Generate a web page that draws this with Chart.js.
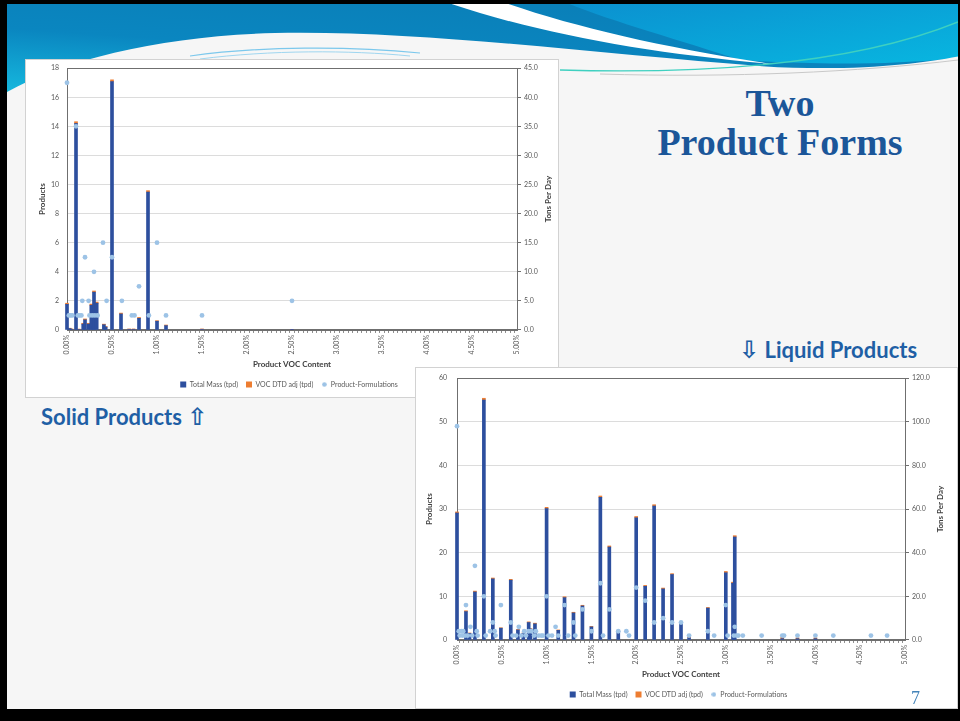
<!DOCTYPE html>
<html>
<head>
<meta charset="utf-8">
<script src="https://cdn.jsdelivr.net/npm/chart.js@4.4.0/dist/chart.umd.min.js"></script>
<style>
  html, body { margin: 0; padding: 0; }
  body { width: 960px; height: 721px; background: #000; position: relative; overflow: hidden; font-family: Lato, "Open Sans", sans-serif; }
  #slide { position: absolute; left: 7px; top: 4px; width: 951px; height: 705px; background: #f6f6f6; overflow: hidden; }
  #banner { position: absolute; left: 0; top: 0; }
  .box { position: absolute; background: #fff; border: 1px solid #d2d2d2; overflow: hidden; }
  .box canvas { display: block; margin-top: -4px; }
  #box1 { left: 25px; top: 59px; width: 532px; height: 337px; }
  #box2 { left: 415px; top: 367px; width: 541px; height: 340px; }
  #title { position: absolute; left: 630px; top: 84px; width: 300px; text-align: center; font-family: "Liberation Serif", serif; font-weight: bold; font-size: 38px; line-height: 39px; color: #1b5699; }
  .note { position: absolute; font-weight: bold; font-size: 22px; color: #1f5fa5; white-space: nowrap; }
  .arrow { font-family: "DejaVu Sans", sans-serif; font-weight: bold; font-size: 24px; }
  #solid { left: 41px; top: 403px; }
  #liquid { left: 739px; top: 336px; }
  #pagenum { position: absolute; left: 911px; top: 688px; font-family: "Liberation Serif", serif; font-size: 18px; color: #4383b8; }
</style>
</head>
<body>
<div id="slide">
  <svg id="banner" width="951" height="110" viewBox="7 4 951 110">
    <defs>
      <linearGradient id="bg" x1="0" y1="1" x2="0.6" y2="0">
        <stop offset="0" stop-color="#19c6e6"/>
        <stop offset="0.55" stop-color="#0a86c0"/>
        <stop offset="1" stop-color="#0a7fb8"/>
      </linearGradient>
      <linearGradient id="bg2" x1="0" y1="0" x2="1" y2="1">
        <stop offset="0" stop-color="#0b8fcf"/>
        <stop offset="1" stop-color="#08b6e0"/>
      </linearGradient>
    </defs>
    <rect x="0" y="0" width="960" height="110" fill="url(#bg)"/>
    <path d="M560,0 L960,0 L960,58 C 880,66 800,64 740,60 C 680,40 600,18 560,0 Z" fill="url(#bg2)"/>
    <path d="M0,96 C 60,60 160,36 275,33 C 420,30 600,54 760,66 C 850,72 920,64 960,56 L960,114 L0,114 Z" fill="#f6f6f6"/>
    <path d="M440,0 L497,0 C 570,26 660,47 772,64 C 650,54 530,32 440,0 Z" fill="#ffffff"/>
    <path d="M190,56 C 260,46 350,46 420,53" stroke="#7cc8ec" stroke-width="1.2" fill="none"/>
    <path d="M200,59 C 270,50 350,50 410,56" stroke="#9fd6f0" stroke-width="1" fill="none"/>
    <path d="M560,70 C 700,74 850,66 958,22" stroke="#3fd0c0" stroke-width="1.4" fill="none"/>
    <path d="M600,74 C 730,78 860,72 958,60" stroke="#c9c9c9" stroke-width="1" fill="none"/>
  </svg>
</div>

<div id="box1" class="box"><canvas id="solidChart" width="532" height="341"></canvas></div>
<div id="box2" class="box"><canvas id="liquidChart" width="541" height="344"></canvas></div>

<div id="title">Two<br>Product Forms</div>
<div id="solid" class="note">Solid Products <span class="arrow">⇧</span></div>
<div id="liquid" class="note"><span class="arrow">⇩</span> Liquid Products</div>
<div id="pagenum">7</div>

<script>
// ---- Solid products (top chart) ----
const solidBarX  = [0.00, 0.03, 0.05, 0.10, 0.13, 0.18, 0.20, 0.24, 0.27, 0.29, 0.30, 0.33, 0.41, 0.43, 0.50, 0.60, 0.69, 0.74, 0.80, 0.90, 1.00, 1.10, 1.50, 2.50];
const solidMass  = [4.4, 0.25, 0.12, 35.5, 0.1, 1.0, 1.75, 1.0, 4.25, 0.5, 6.5, 4.6, 0.9, 0.5, 42.7, 2.75, 0.12, 0.12, 2.0, 23.7, 1.5, 0.75, 0.12, 0.05];
const solidVoc   = [0.2, 0.05, 0.05, 0.3, 0.05, 0.15, 0.15, 0.15, 0.2, 0.1, 0.2, 0.2, 0.1, 0.1, 0.3, 0.15, 0.05, 0.05, 0.15, 0.25, 0.1, 0.1, 0.05, 0.05];
const solidDotX  = [0.00, 0.02, 0.04, 0.06, 0.10, 0.12, 0.14, 0.16, 0.17, 0.20, 0.24, 0.25, 0.28, 0.30, 0.31, 0.34, 0.40, 0.44, 0.50, 0.61, 0.72, 0.75, 0.80, 0.91, 1.00, 1.10, 1.50, 2.50];
const solidDotY  = [17, 1, 1, 1, 14, 1, 1, 1, 2, 5, 2, 1, 1, 4, 1, 1, 6, 2, 5, 2, 1, 1, 3, 1, 6, 1, 1, 2];

// ---- Liquid products (bottom chart) ----
const liquidBarX = [0.00, 0.10, 0.14, 0.20, 0.30, 0.40, 0.49, 0.60, 0.68, 0.74, 0.80, 0.82, 0.87, 1.00, 1.13, 1.20, 1.30, 1.40, 1.50, 1.60, 1.70, 1.80, 2.00, 2.10, 2.20, 2.30, 2.40, 2.50, 2.59, 2.80, 3.00, 3.08, 3.10, 3.63, 3.80, 4.00];
const liquidMass = [58.2, 13.0, 3.0, 22.0, 110.0, 28.0, 5.4, 27.4, 4.6, 3.0, 8.0, 5.0, 7.4, 60.2, 4.4, 19.4, 12.4, 15.6, 6.0, 65.4, 42.6, 4.0, 56.0, 24.6, 61.4, 23.4, 30.0, 7.8, 1.0, 14.6, 30.8, 26.0, 47.2, 0.6, 0.6, 0.6];
const liquidVoc  = [0.5, 0.4, 0.2, 0.4, 0.8, 0.4, 0.2, 0.4, 0.2, 0.2, 0.3, 0.2, 0.3, 0.6, 0.2, 0.4, 0.3, 0.3, 0.2, 0.6, 0.5, 0.2, 0.6, 0.4, 0.6, 0.4, 0.4, 0.3, 0.2, 0.3, 0.6, 0.5, 0.6, 0.8, 0.4, 0.4];
const liquidDotX = [0.00, 0.02, 0.03, 0.05, 0.06, 0.07, 0.09, 0.10, 0.12, 0.15, 0.17, 0.20, 0.22, 0.23, 0.30, 0.32, 0.37, 0.40, 0.42, 0.43, 0.49, 0.60, 0.62, 0.66, 0.69, 0.72, 0.75, 0.77, 0.80, 0.83, 0.86, 0.88, 0.91, 0.94, 0.96, 1.00, 1.02, 1.06, 1.10, 1.13, 1.20, 1.24, 1.30, 1.32, 1.40, 1.50, 1.60, 1.63, 1.70, 1.80, 1.89, 1.92, 2.00, 2.10, 2.20, 2.30, 2.40, 2.50, 2.59, 2.80, 2.87, 3.00, 3.02, 3.09, 3.10, 3.12, 3.14, 3.19, 3.40, 3.63, 3.65, 3.80, 4.00, 4.20, 4.62, 4.80];
const liquidDotY = [49, 2, 1, 2, 1, 2, 1, 8, 1, 3, 1, 17, 2, 1, 10, 1, 2, 4, 2, 1, 8, 4, 1, 1, 3, 1, 2, 1, 2, 2, 1, 2, 1, 1, 1, 10, 1, 1, 3, 1, 8, 1, 4, 1, 7, 2, 13, 1, 7, 2, 2, 1, 12, 9, 4, 5, 4, 4, 1, 2, 1, 8, 1, 1, 3, 1, 1, 1, 1, 1, 1, 1, 1, 1, 1, 1];

const BLUE = '#2d4f9e';
const ORANGE = '#ed7d31';
const DOT = '#9dc3e6';
const FONT = 'Lato, "Open Sans", sans-serif';
const TXT = '#595959';

// small round marker for the legend (smaller than the squares, as in Excel)
const legendDot = document.createElement('canvas');
legendDot.width = 5; legendDot.height = 5;
(function () {
  const c = legendDot.getContext('2d');
  c.fillStyle = DOT;
  c.beginPath(); c.arc(2.5, 2.5, 2.3, 0, Math.PI * 2); c.fill();
})();

// frame around the plot area + right axis title reading upwards
const plotExtras = {
  id: 'plotExtras',
  beforeDatasetsDraw(chart) {
    const a = chart.chartArea, ctx = chart.ctx;
    ctx.save();
    ctx.strokeStyle = '#6f6f6f';
    ctx.lineWidth = 1;
    ctx.strokeRect(Math.round(a.left) + 0.5, Math.round(a.top) + 0.5, Math.round(a.right - a.left), Math.round(a.bottom - a.top));
    ctx.restore();
  },
  afterDraw(chart, args, opts) {
    const a = chart.chartArea, ctx = chart.ctx;
    ctx.save();
    ctx.translate(opts.titleX, (a.top + a.bottom) / 2);
    ctx.rotate(-Math.PI / 2);
    ctx.fillStyle = '#404040';
    ctx.font = 'bold 8px ' + FONT;
    ctx.textAlign = 'center';
    ctx.textBaseline = 'middle';
    ctx.fillText('Tons Per Day', 0, 0);
    ctx.restore();
  }
};

function buildChart(id, barX, mass, voc, dotX, dotY, yMax, yStep, y2Max, y2Step, lay) {
  const massPts = barX.map((x, i) => ({ x: x, y: mass[i] }));
  const vocPts = barX.map((x, i) => ({ x: x, y: voc[i] }));
  const dotPts = dotX.map((x, i) => ({ x: x, y: dotY[i] }));
  return new Chart(document.getElementById(id), {
    type: 'bar',
    data: {
      datasets: [
        { label: 'Total Mass (tpd)', data: massPts, yAxisID: 'y2', stack: 's', backgroundColor: BLUE, barThickness: 3, pointStyle: 'rect', order: 2, clip: false },
        { label: 'VOC DTD adj (tpd)', data: vocPts, yAxisID: 'y2', stack: 's', backgroundColor: ORANGE, barThickness: 3, pointStyle: 'rect', order: 2, clip: false },
        { type: 'scatter', label: 'Product-Formulations', data: dotPts, yAxisID: 'y', backgroundColor: DOT, borderWidth: 0, pointRadius: 2.4, pointStyle: 'circle', order: 1, clip: false }
      ]
    },
    options: {
      responsive: false,
      animation: false,
      layout: { padding: lay.pad },
      plugins: {
        legend: {
          position: 'bottom',
          labels: {
            usePointStyle: true, boxWidth: 6, boxHeight: 6, padding: 8,
            color: TXT, font: { family: FONT, size: 7 },
            sort: (a, b) => a.datasetIndex - b.datasetIndex,
            generateLabels: (chart) => {
              const items = Chart.defaults.plugins.legend.labels.generateLabels(chart);
              items.forEach(it => { if (it.datasetIndex === 2) it.pointStyle = legendDot; });
              return items;
            }
          }
        },
        tooltip: { enabled: false },
        plotExtras: { titleX: lay.titleX }
      },
      scales: {
        x: {
          type: 'linear', min: 0, max: 5, offset: false,
          ticks: {
            stepSize: 0.05, autoSkip: false, maxRotation: 90, minRotation: 90, padding: 2,
            color: TXT, font: { family: FONT, size: 7 },
            callback: v => (Math.round(v * 100) % 50 === 0) ? v.toFixed(2) + '%' : ''
          },
          grid: { drawOnChartArea: false, tickLength: 3, color: '#8c8c8c' },
          border: { color: '#6f6f6f' },
          title: { display: true, text: 'Product VOC Content', color: '#404040', font: { family: FONT, size: 8, weight: 'bold' }, padding: { top: 3, bottom: 4 } }
        },
        y: {
          position: 'left', min: 0, max: yMax,
          afterFit: s => { s.width = lay.yW; },
          ticks: { stepSize: yStep, padding: lay.yPad, color: TXT, font: { family: FONT, size: 7 } },
          grid: { color: '#dcdcdc', drawTicks: false },
          border: { display: false },
          title: { display: true, text: 'Products', color: '#404040', font: { family: FONT, size: 8, weight: 'bold' }, padding: { top: 2, bottom: 2 } }
        },
        y2: {
          position: 'right', stacked: true, min: 0, max: y2Max,
          afterFit: s => { s.width = lay.y2W; },
          ticks: { stepSize: y2Step, padding: 3, color: TXT, font: { family: FONT, size: 7 }, callback: v => v.toFixed(1) },
          grid: { drawOnChartArea: false, tickLength: 4, color: '#6f6f6f' },
          border: { color: '#6f6f6f' },
          title: { display: false }
        }
      }
    },
    plugins: [plotExtras]
  });
}

buildChart('solidChart', solidBarX, solidMass, solidVoc, solidDotX, solidDotY, 18, 2, 45, 5,
  { pad: { left: 10, right: 16, top: 0, bottom: -1 }, yW: 31, yPad: 8, y2W: 25, titleX: 522 });
buildChart('liquidChart', liquidBarX, liquidMass, liquidVoc, liquidDotX, liquidDotY, 60, 10, 120, 20,
  { pad: { left: 7, right: 23, top: 0, bottom: 0 }, yW: 34, yPad: 10, y2W: 29, titleX: 524 });
</script>
</body>
</html>
